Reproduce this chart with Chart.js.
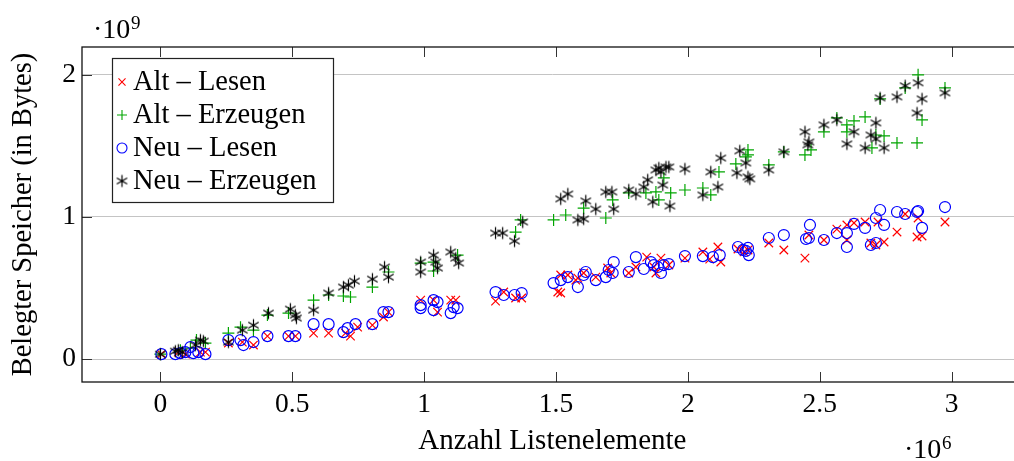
<!DOCTYPE html>
<html>
<head>
<meta charset="utf-8">
<script src="https://cdn.jsdelivr.net/npm/chart.js@4/dist/chart.umd.min.js"></script>
<style>
  html, body { margin: 0; padding: 0; background: #fff; overflow: hidden; }
  #wrap { width: 1030px; height: 461px; }
</style>
</head>
<body>
<div id="wrap"><canvas id="memChart" width="1030" height="461"></canvas></div>
<script>
// values in units of 10^6 elements (x) and 10^9 bytes (y), as the axes show them
const seriesNames = ['Alt – Lesen', 'Alt – Erzeugen', 'Neu – Lesen', 'Neu – Erzeugen'];

const altLesen = [
    [0.004,0.035],[0.068,0.049],[0.095,0.035],[0.152,0.049],[0.171,0.049],[0.258,0.113],[0.311,0.120],
    [0.353,0.099],[0.406,0.162],[0.486,0.162],[0.512,0.162],[0.581,0.183],[0.638,0.183],[0.702,0.183],
    [0.721,0.162],[0.748,0.225],[0.804,0.239],[0.846,0.296],[0.865,0.331],[0.987,0.415],[1.036,0.415],
    [1.051,0.331],[1.101,0.415],[1.120,0.415],[1.271,0.408],[1.302,0.472],[1.347,0.430],[1.370,0.430],
    [1.507,0.472],[1.518,0.465],[1.518,0.592],[1.545,0.592],[1.575,0.556],[1.583,0.570],[1.605,0.606],
    [1.651,0.577],[1.696,0.641],[1.708,0.606],[1.776,0.606],[1.803,0.648],[1.844,0.718],[1.871,0.648],
    [1.879,0.606],[1.898,0.711],[1.928,0.662],[1.989,0.711],[2.057,0.754],[2.083,0.704],[2.114,0.789],
    [2.125,0.683],[2.190,0.775],[2.213,0.754],[2.228,0.768],[2.307,0.817],[2.364,0.768],[2.444,0.711],
    [2.459,0.873],[2.516,0.838],[2.565,0.915],[2.603,0.944],[2.603,0.838],[2.630,0.958],[2.672,0.965],
    [2.694,0.817],[2.713,0.803],[2.721,0.965],[2.744,0.824],[2.793,0.894],[2.824,1.021],[2.869,0.859],
    [2.873,0.993],[2.888,0.866],[2.975,0.965]
];

const altErzeugen = [
    [0.000,0.035],[0.076,0.063],[0.114,0.077],[0.137,0.134],[0.171,0.113],[0.258,0.183],[0.304,0.225],
    [0.353,0.204],[0.406,0.310],[0.486,0.324],[0.581,0.415],[0.638,0.451],[0.694,0.444],[0.721,0.437],
    [0.804,0.507],[0.865,0.613],[0.987,0.676],[1.036,0.683],[1.036,0.620],[1.127,0.732],[1.347,0.894],
    [1.366,0.979],[1.491,0.979],[1.537,1.014],[1.605,1.063],[1.689,0.993],[1.715,1.120],[1.776,1.169],
    [1.841,1.169],[1.879,1.176],[1.890,1.120],[1.909,1.275],[1.935,1.169],[1.989,1.190],[2.057,1.204],
    [2.087,1.155],[2.118,1.317],[2.182,1.373],[2.228,1.472],[2.228,1.437],[2.220,1.423],[2.307,1.366],
    [2.364,1.458],[2.444,1.437],[2.467,1.472],[2.516,1.599],[2.565,1.697],[2.603,1.648],[2.603,1.599],
    [2.630,1.676],[2.672,1.704],[2.698,1.486],[2.713,1.577],[2.744,1.570],[2.729,1.831],[2.793,1.521],
    [2.824,1.908],[2.869,1.521],[2.873,2.000],[2.888,1.683],[2.975,1.908]
];

const neuLesen = [
    [0.004,0.035],[0.057,0.035],[0.076,0.042],[0.095,0.049],[0.114,0.085],[0.125,0.042],[0.144,0.049],
    [0.171,0.035],[0.258,0.134],[0.304,0.134],[0.315,0.099],[0.353,0.120],[0.406,0.162],[0.486,0.162],
    [0.512,0.162],[0.581,0.246],[0.638,0.246],[0.694,0.190],[0.710,0.218],[0.740,0.246],[0.804,0.246],
    [0.846,0.331],[0.865,0.331],[0.987,0.380],[0.987,0.359],[1.036,0.415],[1.036,0.345],[1.051,0.401],
    [1.101,0.324],[1.112,0.366],[1.127,0.359],[1.271,0.472],[1.302,0.451],[1.343,0.451],[1.370,0.465],
    [1.491,0.535],[1.518,0.556],[1.545,0.577],[1.583,0.507],[1.605,0.592],[1.613,0.613],[1.651,0.556],
    [1.689,0.577],[1.700,0.627],[1.715,0.606],[1.719,0.683],[1.776,0.613],[1.803,0.718],[1.833,0.634],
    [1.860,0.683],[1.871,0.662],[1.886,0.648],[1.898,0.606],[1.909,0.662],[1.928,0.669],[1.989,0.725],
    [2.057,0.725],[2.095,0.718],[2.121,0.732],[2.190,0.789],[2.209,0.768],[2.228,0.782],[2.220,0.761],
    [2.231,0.732],[2.307,0.852],[2.364,0.873],[2.448,0.845],[2.459,0.852],[2.463,0.944],[2.516,0.838],
    [2.565,0.887],[2.603,0.887],[2.603,0.789],[2.630,0.951],[2.672,0.923],[2.694,0.803],[2.713,0.817],
    [2.713,0.993],[2.729,1.049],[2.744,0.944],[2.793,1.035],[2.824,1.021],[2.869,1.035],[2.873,1.042],
    [2.888,0.923],[2.975,1.070]
];

const neuErzeugen = [
    [0.000,0.035],[0.057,0.056],[0.068,0.063],[0.083,0.049],[0.133,0.099],[0.152,0.134],[0.163,0.127],
    [0.258,0.120],[0.311,0.204],[0.353,0.239],[0.410,0.324],[0.493,0.352],[0.512,0.310],[0.516,0.289],
    [0.581,0.345],[0.638,0.465],[0.694,0.507],[0.713,0.521],[0.736,0.549],[0.804,0.563],[0.850,0.648],
    [0.865,0.577],[0.987,0.683],[0.987,0.613],[1.036,0.732],[1.044,0.683],[1.051,0.641],[1.101,0.754],
    [1.120,0.711],[1.131,0.676],[1.271,0.887],[1.298,0.887],[1.343,0.831],[1.374,0.965],[1.518,1.127],
    [1.545,1.162],[1.583,0.979],[1.605,0.986],[1.613,1.113],[1.651,1.056],[1.689,1.176],[1.712,1.176],
    [1.719,1.056],[1.776,1.190],[1.803,1.162],[1.833,1.211],[1.848,1.261],[1.867,1.106],[1.879,1.331],
    [1.890,1.345],[1.898,1.317],[1.917,1.352],[1.905,1.225],[1.928,1.352],[1.932,1.077],[1.989,1.338],
    [2.057,1.155],[2.087,1.317],[2.114,1.211],[2.125,1.415],[2.186,1.310],[2.197,1.465],[2.220,1.380],
    [2.228,1.282],[2.235,1.268],[2.307,1.331],[2.364,1.458],[2.444,1.599],[2.459,1.528],[2.455,1.507],
    [2.516,1.648],[2.565,1.683],[2.603,1.514],[2.630,1.599],[2.672,1.486],[2.694,1.577],[2.713,1.662],
    [2.713,1.549],[2.729,1.838],[2.744,1.486],[2.793,1.845],[2.824,1.923],[2.873,1.944],[2.869,1.732],
    [2.888,1.831],[2.975,1.873]
];

const FONT = '"Liberation Serif", "DejaVu Serif", serif';
const GREEN = 'rgb(0,165,0)';

// pgfplots style asterisk (3 strokes)
function makeAsterisk(r, color) {
    const s = Math.ceil(2 * r + 3);
    const c = document.createElement('canvas');
    c.width = s; c.height = s;
    const g = c.getContext('2d');
    g.strokeStyle = color;
    g.lineWidth = 1.2;
    const m = s / 2;
    g.beginPath();
    [90, 30, 150].forEach(a => {
        const t = a * Math.PI / 180;
        g.moveTo(m - r * Math.cos(t), m - r * Math.sin(t));
        g.lineTo(m + r * Math.cos(t), m + r * Math.sin(t));
    });
    g.stroke();
    return c;
}
const asterisk = makeAsterisk(6, '#000');

const toPts = arr => arr.map(p => ({ x: p[0], y: p[1] }));

const datasets = [
    { label: seriesNames[0], data: toPts(altLesen), pointStyle: 'crossRot', pointRadius: 6,
      borderColor: '#ff0000', backgroundColor: '#ff0000', pointBorderWidth: 1.2, order: 4 },
    { label: seriesNames[1], data: toPts(altErzeugen), pointStyle: 'cross', pointRadius: 6,
      borderColor: GREEN, backgroundColor: GREEN, pointBorderWidth: 1.2, order: 3 },
    { label: seriesNames[2], data: toPts(neuLesen), pointStyle: 'circle', pointRadius: 5.5,
      borderColor: '#0000ff', backgroundColor: 'rgba(0,0,0,0)', pointBorderWidth: 1.2, order: 2 },
    { label: seriesNames[3], data: toPts(neuErzeugen), pointStyle: asterisk, pointRadius: 6,
      borderColor: '#000', backgroundColor: '#000', pointBorderWidth: 1.2, order: 1 }
];

// frame, inward ticks, scale exponents and the boxed legend
const decorPlugin = {
    id: 'decor',
    afterDraw(chart) {
        const { ctx, chartArea: a, scales: { x, y } } = chart;
        ctx.save();
        ctx.strokeStyle = '#333';
        ctx.lineWidth = 1;
        ctx.beginPath();
        x.ticks.forEach(t => {
            const px = Math.round(x.getPixelForValue(t.value)) + 0.5;
            ctx.moveTo(px, a.bottom); ctx.lineTo(px, a.bottom - 10);
            ctx.moveTo(px, a.top); ctx.lineTo(px, a.top + 10);
        });
        y.ticks.forEach(t => {
            const py = Math.round(y.getPixelForValue(t.value)) + 0.5;
            ctx.moveTo(a.left, py); ctx.lineTo(a.left + 10, py);
        });
        ctx.stroke();

        ctx.strokeStyle = '#111';
        ctx.lineWidth = 1.3;
        ctx.strokeRect(a.left, a.top, a.right - a.left, a.bottom - a.top);

        // exponent labels
        ctx.fillStyle = '#000';
        ctx.textBaseline = 'alphabetic';
        ctx.textAlign = 'left';
        ctx.font = '28px ' + FONT;
        ctx.fillText('·10', 93, 38);
        ctx.fillText('·10', 904, 458);
        ctx.font = '19px ' + FONT;
        ctx.fillText('9', 131, 29);
        ctx.fillText('6', 942, 449);

        // legend
        const lx = 112, ly = 58, lw = 221, lh = 144;
        ctx.fillStyle = '#fff';
        ctx.fillRect(lx, ly, lw, lh);
        ctx.strokeStyle = '#222';
        ctx.lineWidth = 1.2;
        ctx.strokeRect(lx + 0.5, ly + 0.5, lw, lh);
        ctx.font = '28.5px ' + FONT;
        ctx.textBaseline = 'middle';
        datasets.forEach((ds, i) => {
            const cy = ly + 24 + i * 33;
            ctx.strokeStyle = ds.borderColor;
            ctx.fillStyle = ds.backgroundColor;
            ctx.lineWidth = 1.1;
            Chart.helpers.drawPoint(ctx, {
                pointStyle: ds.pointStyle,
                radius: 5,
                borderWidth: 1.1,
                rotation: 0
            }, 122, cy);
            ctx.fillStyle = '#000';
            ctx.fillText(ds.label, 133, cy + 1);
        });
        ctx.restore();
    }
};

new Chart(document.getElementById('memChart').getContext('2d'), {
    type: 'scatter',
    data: { datasets: datasets },
    options: {
        responsive: false,
        animation: false,
        devicePixelRatio: 1,
        layout: { padding: { top: 47, right: 7, left: 0, bottom: 0 } },
        plugins: { legend: { display: false }, tooltip: { enabled: false } },
        scales: {
            x: {
                type: 'linear',
                min: -0.297,
                max: 3.27,
                grid: { display: false },
                border: { display: false },
                ticks: {
                    stepSize: 0.5,
                    includeBounds: false,
                    color: '#000',
                    padding: 1,
                    maxRotation: 0,
                    font: { family: FONT, size: 27.5, lineHeight: 1 },
                    callback: v => String(Number(v.toFixed(1)))
                },
                title: {
                    display: true,
                    text: 'Anzahl Listenelemente',
                    color: '#000',
                    padding: { top: 0, bottom: 5 },
                    font: { family: FONT, size: 29, lineHeight: 1 }
                },
                afterFit: s => { s.height = 79; }
            },
            y: {
                type: 'linear',
                min: -0.161,
                max: 2.196,
                grid: { color: '#c4c4c4', lineWidth: 1, drawTicks: false },
                border: { display: false },
                ticks: {
                    stepSize: 1,
                    includeBounds: false,
                    color: '#000',
                    padding: 6,
                    font: { family: FONT, size: 27.5, lineHeight: 1 },
                    callback: v => String(Number(v.toFixed(1)))
                },
                title: {
                    display: true,
                    text: 'Belegter Speicher (in Bytes)',
                    color: '#000',
                    padding: { top: 9, bottom: 0 },
                    font: { family: FONT, size: 28.5, lineHeight: 1 }
                },
                afterFit: s => { s.width = 82; }
            }
        }
    },
    plugins: [decorPlugin]
});
</script>
</body>
</html>
